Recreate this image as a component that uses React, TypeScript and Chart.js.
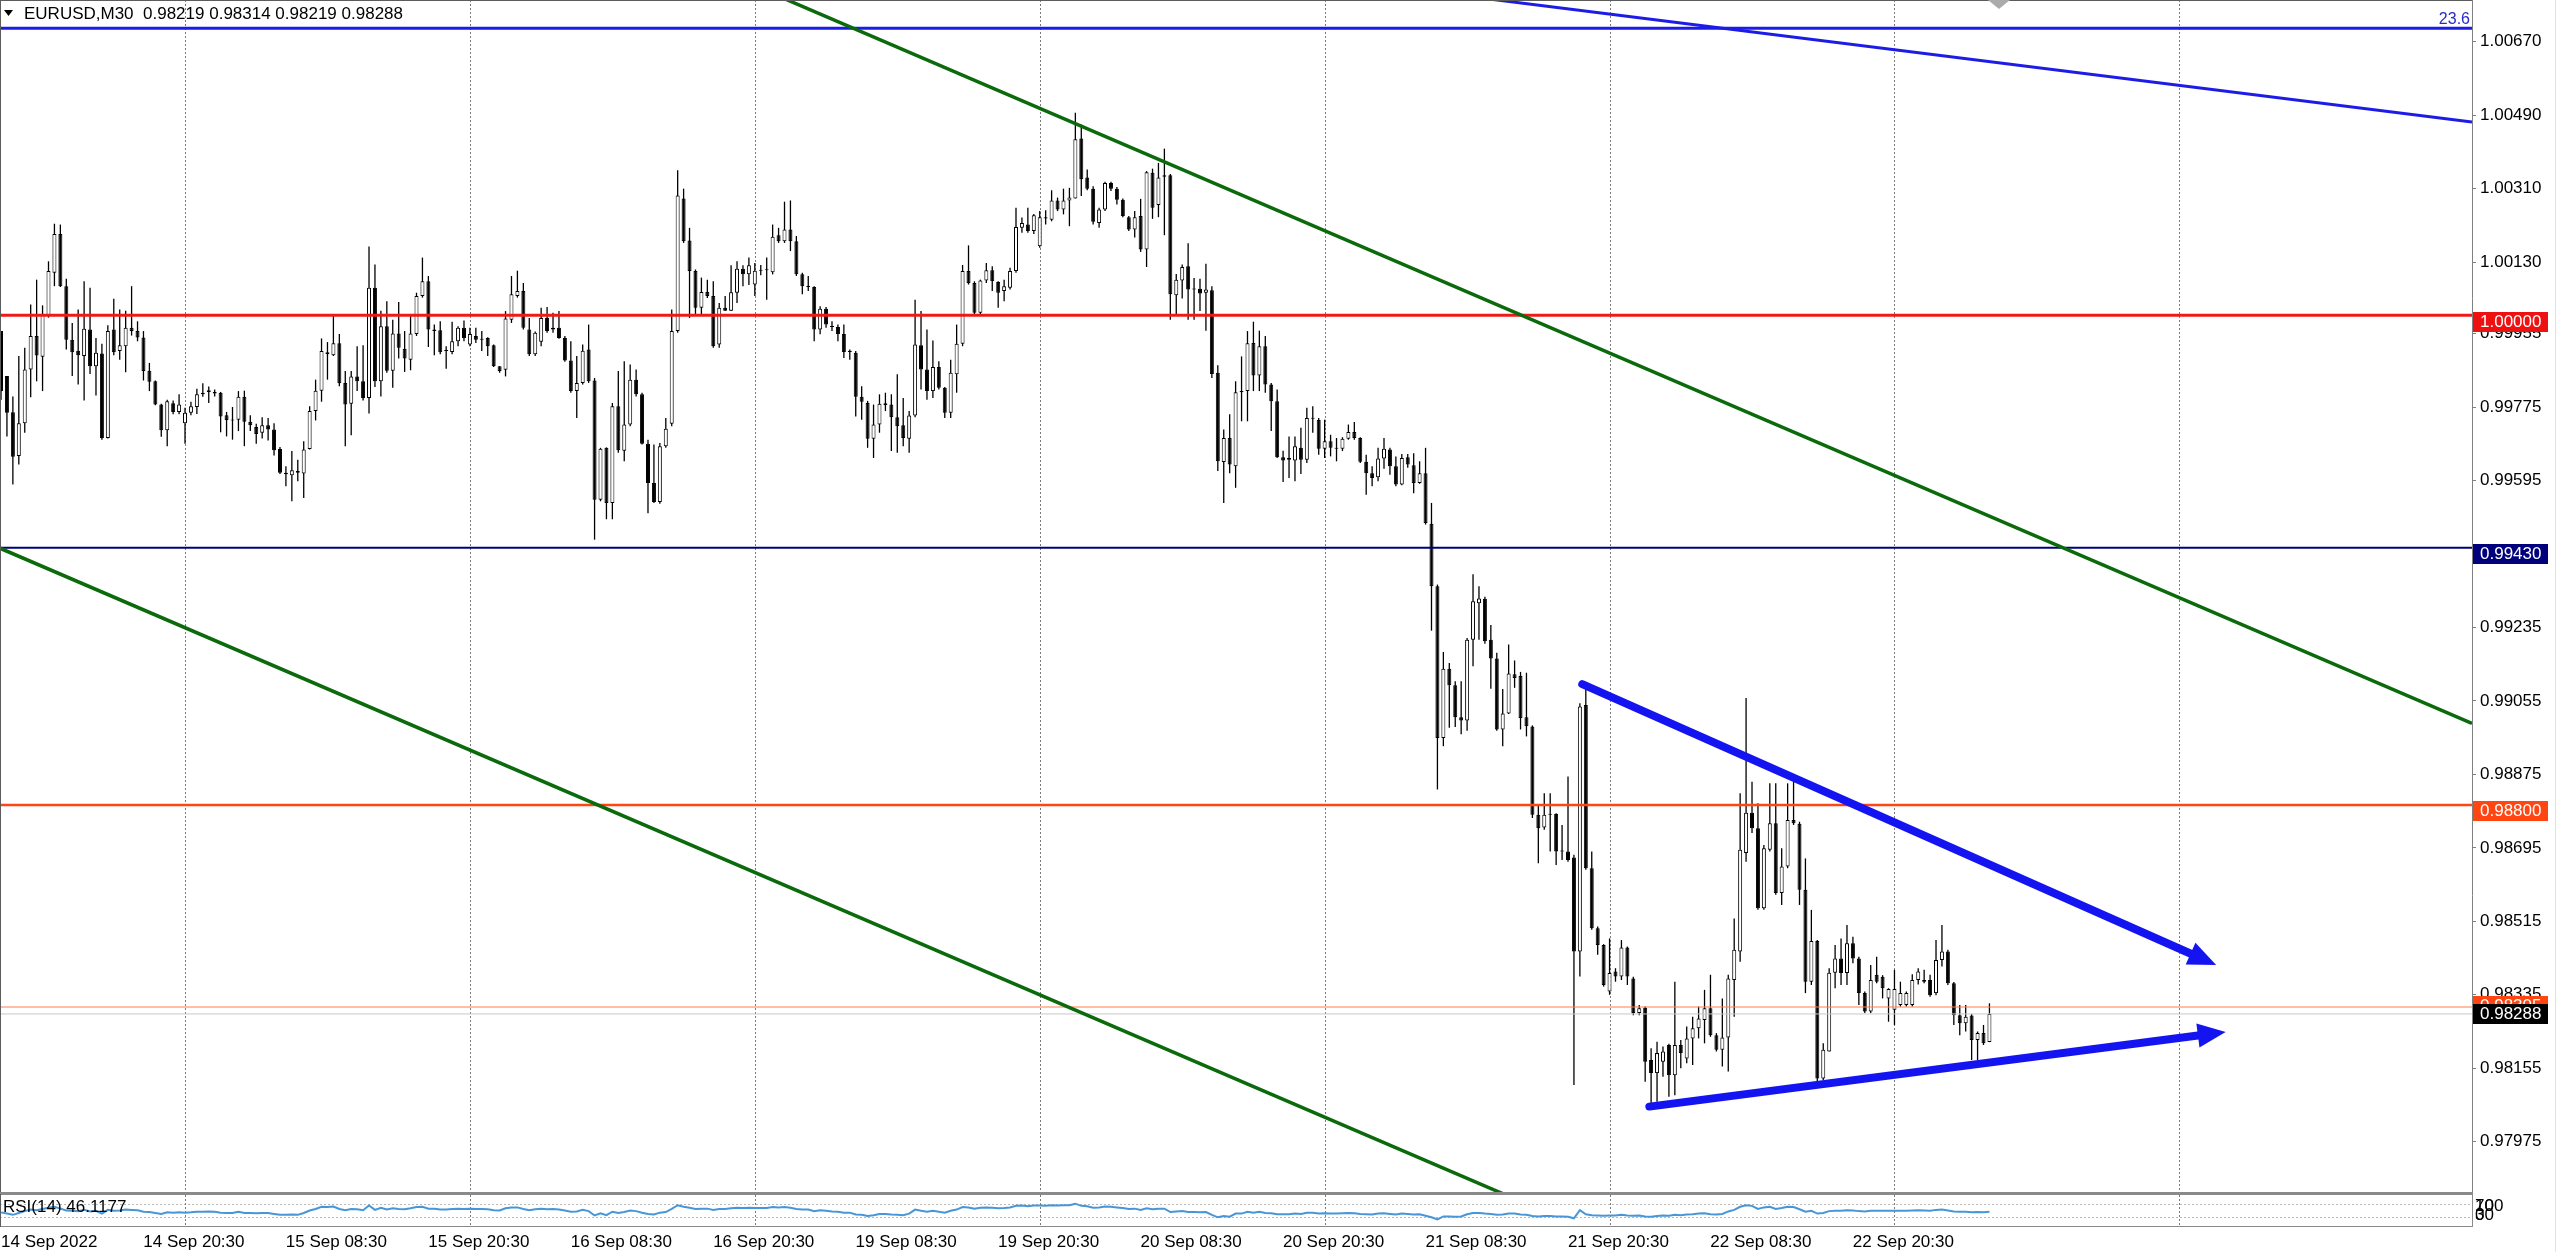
import React, { useEffect, useRef } from 'react';
import { Chart, registerables } from 'chart.js';

Chart.register(...registerables);

const FONT = "'Liberation Sans', Arial, sans-serif";

// ---------------- data (prices in 1e-5 units) ----------------
const symbolTitle = 'EURUSD,M30  0.98219 0.98314 0.98219 0.98288';

const openP = [
  99961, 99851, 99762, 99655, 99735, 99867, 99949, 99898, 99998, 100104,
  100199, 100071, 99940, 99913, 99900, 99965, 99875, 99906, 99699, 99965,
  99912, 99924, 99969, 99961, 99945, 99864, 99838, 99781, 99718, 99784,
  99763, 99735, 99761, 99775, 99806, 99812, 99812, 99810, 99755, 99744,
  99744, 99800, 99739, 99726, 99712, 99730, 99720, 99672, 99614, 99608,
  99618, 99612, 99672, 99765, 99815, 99909, 99902, 99931, 99834, 99783,
  99850, 99838, 99797, 100067, 99838, 99973, 99864, 99955, 99918, 99891,
  99954, 100047, 100083, 99965, 99963, 99912, 99910, 99936, 99969, 99928,
  99949, 99942, 99944, 99926, 99875, 99866, 99989, 100047, 100059, 99965,
  99904, 99935, 99993, 99965, 99969, 99944, 99889, 99814, 99834, 99916,
  99840, 99548, 99675, 99540, 99777, 99668, 99732, 99842, 99806, 99685,
  99589, 99542, 99679, 99734, 99961, 100286, 100183, 100108, 100018, 100057,
  100047, 99928, 100018, 100011, 100055, 100114, 100100, 100075, 100109, 100110,
  100105, 100196, 100181, 100210, 100181, 100100, 100071, 100069, 99965, 100016,
  99973, 99971, 99954, 99913, 99908, 99800, 99785, 99697, 99732, 99784,
  99781, 99750, 99730, 99697, 99754, 99926, 99867, 99814, 99873, 99822,
  99761, 99855, 99930, 100108, 100079, 100006, 100085, 100110, 100081, 100059,
  100067, 100108, 100214, 100222, 100206, 100169, 100240, 100234, 100281, 100259,
  100281, 100286, 100433, 100337, 100310, 100226, 100259, 100324, 100310, 100283,
  100240, 100210, 100243, 100161, 100349, 100270, 100339, 100343, 100049, 100085,
  100120, 100065, 100065, 100055, 100061, 99859, 99640, 99699, 99630, 99811,
  99814, 99932, 99852, 99924, 99830, 99789, 99652, 99646, 99644, 99675,
  99646, 99746, 99743, 99673, 99691, 99675, 99673, 99697, 99714, 99699,
  99641, 99613, 99603, 99649, 99671, 99630, 99585, 99652, 99632, 99589,
  99613, 99489, 99336, 98964, 99134, 99093, 99015, 99007, 99205, 99294,
  99305, 99205, 99159, 98985, 99024, 99120, 99116, 99015, 98992, 98776,
  98745, 98778, 98778, 98688, 98686, 98671, 98441, 99045, 98645, 98498,
  98457, 98343, 98392, 98380, 98451, 98375, 98290, 98303, 98175, 98143,
  98171, 98212, 98138, 98212, 98179, 98228, 98253, 98273, 98302, 98236,
  98200, 98230, 98371, 98441, 98682, 98781, 98743, 98547, 98690, 98755,
  98584, 98649, 98763, 98754, 98592, 98367, 98467, 98130, 98196, 98389,
  98424, 98388, 98461, 98424, 98339, 98294, 98384, 98379, 98326, 98298,
  98310, 98310, 98310, 98371, 98371, 98371, 98339, 98420, 98441, 98363,
  98285, 98265, 98284, 98224, 98241, 98219,
];

const highP = [
  99961, 99851, 99801, 99900, 99920, 100026, 100087, 100024, 100132, 100224,
  100222, 100089, 99981, 100014, 100083, 100067, 99944, 99930, 99975, 100040,
  100014, 100011, 100071, 99985, 99961, 99883, 99840, 99783, 99793, 99791,
  99806, 99773, 99788, 99820, 99833, 99825, 99818, 99812, 99763, 99775,
  99814, 99815, 99755, 99734, 99750, 99748, 99735, 99677, 99630, 99667,
  99646, 99691, 99777, 99842, 99943, 99934, 99998, 99954, 99863, 99863,
  99924, 99926, 100168, 100124, 100011, 100034, 99989, 100032, 99961, 100003,
  100055, 100141, 100096, 99977, 99985, 99924, 99984, 99973, 99987, 99969,
  99969, 99961, 99946, 99928, 99875, 100010, 100096, 100109, 100079, 99993,
  99960, 100018, 100020, 100006, 100010, 99949, 99936, 99900, 99928, 99977,
  99846, 99675, 99676, 99785, 99863, 99887, 99879, 99867, 99810, 99695,
  99683, 99687, 99748, 100014, 100355, 100310, 100214, 100112, 100092, 100087,
  100083, 100030, 100047, 100122, 100132, 100122, 100141, 100128, 100123, 100141,
  100222, 100214, 100278, 100281, 100194, 100104, 100096, 100071, 100022, 100020,
  99985, 99977, 99977, 99916, 99912, 99826, 99790, 99781, 99806, 99810,
  99806, 99855, 99797, 99765, 100038, 100010, 99965, 99938, 99887, 99824,
  99891, 99977, 100123, 100171, 100083, 100087, 100128, 100120, 100083, 100087,
  100116, 100263, 100239, 100263, 100248, 100255, 100257, 100306, 100288, 100310,
  100312, 100496, 100467, 100357, 100316, 100263, 100327, 100327, 100314, 100286,
  100243, 100255, 100285, 100353, 100359, 100373, 100408, 100346, 100101, 100124,
  100176, 100091, 100089, 100126, 100071, 99877, 99720, 99757, 99838, 99899,
  99961, 99984, 99962, 99949, 99834, 99818, 99668, 99703, 99703, 99724,
  99773, 99777, 99748, 99744, 99707, 99699, 99701, 99732, 99738, 99701,
  99658, 99630, 99675, 99699, 99675, 99654, 99660, 99660, 99662, 99642,
  99675, 99540, 99340, 99175, 99148, 99103, 99103, 99209, 99365, 99336,
  99310, 99241, 99173, 99084, 99193, 99154, 99126, 99124, 98995, 98800,
  98829, 98829, 98780, 98751, 98870, 98678, 99049, 99086, 98686, 98502,
  98459, 98473, 98400, 98469, 98453, 98379, 98310, 98306, 98204, 98220,
  98208, 98215, 98367, 98224, 98257, 98281, 98306, 98347, 98384, 98241,
  98326, 98384, 98522, 98829, 99062, 98857, 98804, 98702, 98853, 98853,
  98694, 98853, 98857, 98759, 98669, 98543, 98469, 98216, 98400, 98457,
  98473, 98506, 98477, 98428, 98343, 98408, 98428, 98383, 98351, 98396,
  98367, 98343, 98385, 98400, 98396, 98384, 98469, 98506, 98445, 98366,
  98310, 98310, 98288, 98245, 98261, 98314,
];

const lowP = [
  99793, 99703, 99585, 99634, 99712, 99799, 99838, 99814, 99994, 100071,
  100069, 99916, 99851, 99830, 99791, 99856, 99803, 99695, 99698, 99902,
  99891, 99860, 99950, 99936, 99840, 99814, 99779, 99702, 99679, 99757,
  99757, 99685, 99755, 99758, 99800, 99785, 99801, 99713, 99703, 99695,
  99716, 99679, 99716, 99685, 99698, 99693, 99656, 99611, 99581, 99544,
  99593, 99552, 99671, 99742, 99788, 99842, 99900, 99826, 99679, 99706,
  99814, 99791, 99759, 99824, 99801, 99859, 99822, 99894, 99861, 99865,
  99949, 100043, 99922, 99902, 99904, 99869, 99904, 99924, 99936, 99924,
  99932, 99912, 99900, 99873, 99859, 99850, 99981, 100043, 99965, 99900,
  99900, 99924, 99957, 99957, 99942, 99886, 99810, 99748, 99830, 99834,
  99450, 99544, 99500, 99500, 99663, 99642, 99728, 99801, 99683, 99515,
  99540, 99538, 99675, 99728, 99957, 100177, 99993, 100003, 100002, 100042,
  99920, 99920, 100010, 100010, 100030, 100071, 100074, 100047, 100098, 100038,
  100100, 100177, 100177, 100157, 100096, 100051, 100059, 99936, 99953, 99969,
  99961, 99936, 99895, 99891, 99752, 99744, 99675, 99650, 99712, 99765,
  99667, 99663, 99679, 99663, 99750, 99818, 99793, 99797, 99818, 99748,
  99748, 99810, 99924, 100075, 100002, 100002, 100079, 100059, 100018, 100034,
  100063, 100104, 100202, 100202, 100199, 100165, 100222, 100230, 100255, 100247,
  100218, 100286, 100292, 100306, 100222, 100214, 100255, 100304, 100271, 100240,
  100206, 100190, 100155, 100118, 100236, 100240, 100196, 99989, 99998, 100041,
  99989, 99989, 100010, 99962, 99846, 99618, 99540, 99613, 99577, 99740,
  99740, 99814, 99814, 99810, 99716, 99650, 99591, 99601, 99593, 99611,
  99638, 99712, 99658, 99650, 99654, 99642, 99667, 99695, 99695, 99638,
  99560, 99581, 99593, 99624, 99609, 99581, 99583, 99626, 99564, 99587,
  99487, 99227, 98838, 98944, 98989, 98991, 98973, 98982, 99140, 99205,
  99195, 99085, 98982, 98944, 99023, 99087, 98985, 98968, 98768, 98657,
  98739, 98686, 98653, 98665, 98661, 98114, 98380, 98641, 98494, 98433,
  98355, 98335, 98367, 98371, 98359, 98285, 98285, 98122, 98069, 98073,
  98134, 98085, 98089, 98155, 98167, 98163, 98228, 98216, 98232, 98196,
  98159, 98147, 98281, 98416, 98661, 98731, 98543, 98543, 98686, 98580,
  98555, 98645, 98751, 98555, 98339, 98359, 98122, 98126, 98196, 98351,
  98359, 98359, 98412, 98310, 98290, 98290, 98363, 98326, 98269, 98261,
  98306, 98306, 98306, 98360, 98363, 98330, 98334, 98404, 98359, 98261,
  98236, 98245, 98175, 98175, 98212, 98219,
];

const closeP = [
  99814, 99761, 99653, 99735, 99867, 99949, 99901, 100002, 100108, 100199,
  100071, 99940, 99909, 99902, 99967, 99875, 99908, 99699, 99961, 99909,
  99926, 99969, 99961, 99945, 99863, 99837, 99781, 99718, 99789, 99763,
  99781, 99761, 99777, 99806, 99810, 99816, 99808, 99752, 99743, 99742,
  99800, 99739, 99730, 99709, 99730, 99720, 99669, 99614, 99610, 99620,
  99614, 99671, 99765, 99815, 99912, 99904, 99931, 99833, 99781, 99850,
  99838, 99797, 100067, 99838, 99973, 99864, 99955, 99920, 99894, 99955,
  100047, 100083, 99965, 99961, 99909, 99912, 99936, 99969, 99944, 99954,
  99940, 99940, 99924, 99875, 99863, 99992, 100051, 100059, 99969, 99904,
  99957, 99993, 99961, 99969, 99944, 99889, 99814, 99834, 99913, 99838,
  99548, 99673, 99540, 99777, 99669, 99732, 99842, 99806, 99685, 99589,
  99542, 99679, 99722, 99961, 100293, 100181, 100108, 100018, 100057, 100047,
  99924, 100018, 100011, 100056, 100114, 100100, 100122, 100109, 100110, 100111,
  100192, 100181, 100210, 100181, 100100, 100071, 100069, 99965, 100016, 99977,
  99971, 99954, 99910, 99910, 99800, 99788, 99697, 99732, 99783, 99779,
  99750, 99728, 99699, 99754, 99928, 99867, 99814, 99873, 99822, 99761,
  99859, 99930, 100108, 100079, 100006, 100085, 100110, 100083, 100055, 100071,
  100108, 100216, 100226, 100206, 100245, 100240, 100237, 100281, 100259, 100281,
  100288, 100431, 100333, 100310, 100229, 100259, 100324, 100310, 100283, 100243,
  100210, 100240, 100161, 100350, 100263, 100337, 100343, 100051, 100087, 100118,
  100063, 100063, 100053, 100063, 99856, 99642, 99699, 99634, 99811, 99814,
  99931, 99852, 99924, 99830, 99789, 99652, 99644, 99650, 99679, 99646,
  99748, 99748, 99673, 99691, 99675, 99673, 99697, 99714, 99699, 99641,
  99613, 99601, 99649, 99673, 99630, 99585, 99650, 99634, 99589, 99613,
  99491, 99336, 98964, 99134, 99093, 99015, 99007, 99205, 99299, 99306,
  99201, 99159, 98985, 99024, 99122, 99111, 99013, 98993, 98776, 98743,
  98776, 98776, 98686, 98686, 98665, 98441, 99041, 98645, 98498, 98457,
  98359, 98388, 98380, 98451, 98380, 98290, 98302, 98171, 98143, 98192,
  98196, 98138, 98212, 98192, 98228, 98253, 98277, 98302, 98236, 98200,
  98230, 98375, 98445, 98690, 98781, 98743, 98547, 98694, 98755, 98584,
  98649, 98763, 98755, 98592, 98367, 98467, 98130, 98200, 98389, 98424,
  98388, 98461, 98424, 98339, 98294, 98371, 98367, 98351, 98349, 98349,
  98339, 98339, 98371, 98392, 98367, 98334, 98420, 98441, 98363, 98285,
  98265, 98281, 98224, 98241, 98216, 98288,
];

const rsiValues = [
  44, 40, 36, 42, 48, 53, 51, 55, 59, 62,
  56, 50, 49, 48, 52, 47, 49, 40, 52, 49,
  50, 53, 52, 51, 46, 45, 42, 39, 44, 43,
  44, 43, 44, 46, 46, 47, 46, 43, 42, 42,
  46, 42, 42, 41, 42, 42, 39, 36, 36, 37,
  36, 42, 50, 55, 62, 61, 63, 55, 51, 55,
  54, 51, 66, 52, 59, 53, 57, 55, 54, 57,
  61, 62, 56, 56, 53, 53, 55, 56, 55, 56,
  55, 55, 54, 51, 50, 57, 60, 60, 55, 51,
  54, 56, 54, 55, 53, 50, 46, 47, 52, 48,
  34, 41, 35, 46, 42, 45, 50, 48, 43, 39,
  37, 43, 45, 55, 67, 62, 59, 55, 56, 56,
  52, 55, 55, 57, 59, 58, 59, 58, 58, 58,
  61, 60, 61, 59, 55, 53, 53, 48, 51, 49,
  47, 46, 43, 43, 37, 36, 32, 35, 39, 39,
  37, 36, 35, 40, 53, 49, 46, 49, 46, 43,
  49, 53, 61, 60, 56, 59, 60, 59, 57, 58,
  60, 65, 66, 64, 66, 66, 65, 67, 66, 67,
  67, 72, 65, 64, 59, 60, 63, 62, 60, 58,
  55, 56, 52, 57, 54, 56, 56, 45, 47, 48,
  45, 45, 44, 45, 36, 28, 32, 30, 40, 40,
  46, 43, 46, 42, 41, 38, 38, 38, 40, 39,
  43, 43, 40, 41, 40, 40, 41, 42, 41, 39,
  38, 37, 40, 41, 39, 37, 40, 39, 37, 38,
  33, 28, 21, 31, 31, 30, 31, 38, 42, 42,
  40, 39, 36, 37, 40, 40, 37, 36, 32, 31,
  32, 32, 31, 31, 30, 25, 51, 38, 35, 34,
  33, 34, 34, 36, 34, 33, 34, 31, 30, 32,
  34, 33, 36, 35, 37, 38, 40, 41, 38, 37,
  39, 47, 52, 62, 67, 65, 55, 60, 62, 55,
  58, 62, 61, 54, 46, 49, 40, 42, 48, 49,
  49, 51, 50, 48, 47, 49, 49, 49, 49, 49,
  49, 49, 50, 51, 50, 49, 52, 53, 50, 47,
  46, 46, 44, 45, 44, 46.1177,
];

const timeLabels = [
  '14 Sep 2022', '14 Sep 20:30', '15 Sep 08:30', '15 Sep 20:30', '16 Sep 08:30',
  '16 Sep 20:30', '19 Sep 08:30', '19 Sep 20:30', '20 Sep 08:30', '20 Sep 20:30',
  '21 Sep 08:30', '21 Sep 20:30', '22 Sep 08:30', '22 Sep 20:30',
];
const timeLabelBars = [0, 31, 55, 79, 103, 127, 151, 175, 199, 223, 247, 271, 295, 319];
const gridBars = [31, 79, 127, 175, 223, 271, 319, 367];

const priceTicks = [
  1.0067, 1.0049, 1.0031, 1.0013, 0.99955, 0.99775, 0.99595, 0.99415,
  0.99235, 0.99055, 0.98875, 0.98695, 0.98515, 0.98335, 0.98155, 0.97975,
];
const rsiLevels = [70, 30];
const rsiScaleLabels = ['100', '70', '30', '0'];

// horizontal levels: fibo 23.6, 1.00000, 0.99430, 0.98800, ask, bid
const levelPrices = [1.00703, 1.0, 0.9943, 0.988, 0.98305, 0.98288];
const fiboText = '23.6';

// trend lines as [bar, price] end points
const channelUpper = [[125, 1.00819], [416.3, 0.99]];
const channelLower = [[-0.17, 0.99429], [260, 0.97804]];
const blueTrend = [[245, 1.00785], [416.3, 1.00473]];
const arrowUpper = [[266.4, 0.99096], [373.2, 0.98408]];
const arrowLower = [[277.7, 0.98061], [374.8, 0.98244]];

// ---------------- styles / layout ----------------
const XMIN = -0.17;
const XMAX = 416.3;
const YMIN = 0.978493;
const YMAX = 1.0077217;
const AXIS_W = 88;

const levelStyles = [
  { color: '#1c1ce6', width: 3 },
  { color: '#ee1a1a', width: 3 },
  { color: '#00007c', width: 2 },
  { color: '#ff4512', width: 2.5 },
  { color: '#ff7a50', width: 1 },
  { color: '#c8c8c8', width: 1 },
];
const levelBoxes = [
  { i: 1, bg: '#ee1111', dy: 7 },
  { i: 2, bg: '#00007c', dy: 6 },
  { i: 3, bg: '#ff4512', dy: 6 },
  { i: 4, bg: '#ff4512', dy: -1 },
  { i: 5, bg: '#000000', dy: 0 },
];

const N = closeP.length;
const idx = Array.from({ length: N }, (_, i) => i);
const pr = (v: number) => v / 1e5;
const seg = (pts: number[][]) => pts.map(([x, y]) => ({ x, y }));

function drawArrow(ctx: CanvasRenderingContext2D, x0: number, y0: number, x1: number, y1: number, color: string) {
  const ang = Math.atan2(y1 - y0, x1 - x0);
  const c = Math.cos(ang), s = Math.sin(ang);
  const headLen = 28, headHalf = 12;
  const bx = x1 - headLen * c, by = y1 - headLen * s;
  ctx.strokeStyle = color;
  ctx.lineWidth = 8;
  ctx.lineCap = 'round';
  ctx.beginPath();
  ctx.moveTo(x0, y0);
  ctx.lineTo(bx + 4 * c, by + 4 * s);
  ctx.stroke();
  ctx.fillStyle = color;
  ctx.beginPath();
  ctx.moveTo(x1, y1);
  ctx.lineTo(bx - headHalf * s, by + headHalf * c);
  ctx.lineTo(bx + headHalf * s, by - headHalf * c);
  ctx.closePath();
  ctx.fill();
}

const mainPlugin = {
  id: 'mt4main',
  beforeDatasetsDraw(chart: any) {
    const { ctx, chartArea: a, scales } = chart;
    const xs = scales.x;
    ctx.save();
    ctx.strokeStyle = '#7a7a7a';
    ctx.lineWidth = 1;
    ctx.setLineDash([2, 2]);
    for (const b of gridBars) {
      const x = Math.round(xs.getPixelForValue(b)) + 0.5;
      ctx.beginPath();
      ctx.moveTo(x, a.top);
      ctx.lineTo(x, a.bottom);
      ctx.stroke();
    }
    ctx.restore();
  },
  afterDatasetsDraw(chart: any) {
    const { ctx, chartArea: a, scales } = chart;
    const xs = scales.x, ys = scales.y;
    ctx.save();
    ctx.beginPath();
    ctx.rect(a.left, a.top, a.right - a.left, a.bottom - a.top);
    ctx.clip();
    for (const ar of [arrowUpper, arrowLower]) {
      drawArrow(
        ctx,
        xs.getPixelForValue(ar[0][0]), ys.getPixelForValue(ar[0][1]),
        xs.getPixelForValue(ar[1][0]), ys.getPixelForValue(ar[1][1]),
        '#1414f0'
      );
    }
    ctx.restore();
  },
  afterDraw(chart: any) {
    const { ctx, chartArea: a, scales } = chart;
    const ys = scales.y;
    ctx.save();
    // frame
    ctx.fillStyle = '#5c5c5c';
    ctx.fillRect(0, 0, a.right, 1);
    ctx.fillRect(0, 0, 1, a.bottom);
    ctx.fillStyle = '#8a8a8a';
    ctx.fillRect(0, a.bottom - 1, a.right + 1, 2);
    ctx.fillStyle = '#e2e2e2';
    ctx.fillRect(2555, 0, 1, chart.height);
    // price labels of lines
    ctx.font = `17px ${FONT}`;
    ctx.textBaseline = 'middle';
    ctx.textAlign = 'left';
    for (const b of levelBoxes) {
      const p = levelPrices[b.i];
      const cy = ys.getPixelForValue(p) + b.dy;
      ctx.fillStyle = b.bg;
      ctx.fillRect(a.right + 1, Math.round(cy - 10), 75, 20);
      ctx.fillStyle = '#ffffff';
      ctx.fillText(p.toFixed(5), a.right + 8, Math.round(cy) + 0.5);
    }
    // header
    ctx.fillStyle = '#000';
    ctx.beginPath();
    ctx.moveTo(4, 10);
    ctx.lineTo(13, 10);
    ctx.lineTo(8.5, 16);
    ctx.closePath();
    ctx.fill();
    ctx.fillText(symbolTitle, 24, 14);
    // fibo text
    ctx.font = `16px ${FONT}`;
    ctx.textAlign = 'right';
    ctx.textBaseline = 'alphabetic';
    ctx.fillStyle = '#2a2ac8';
    ctx.fillText(fiboText, a.right - 2, 24);
    // grey marker at the top
    ctx.fillStyle = '#ababab';
    ctx.beginPath();
    ctx.moveTo(1988, 0);
    ctx.lineTo(2010, 0);
    ctx.lineTo(1999, 9);
    ctx.closePath();
    ctx.fill();
    ctx.restore();
  },
};

const rsiPlugin = {
  id: 'mt4rsi',
  beforeDatasetsDraw(chart: any) {
    const { ctx, chartArea: a, scales } = chart;
    const xs = scales.x, ys = scales.y;
    ctx.save();
    ctx.lineWidth = 1;
    ctx.setLineDash([2, 2]);
    ctx.strokeStyle = '#b8b8b8';
    for (const lv of rsiLevels) {
      const y = Math.round(ys.getPixelForValue(lv)) + 0.5;
      ctx.beginPath();
      ctx.moveTo(a.left, y);
      ctx.lineTo(a.right, y);
      ctx.stroke();
    }
    ctx.strokeStyle = '#7a7a7a';
    for (const b of gridBars) {
      const x = Math.round(xs.getPixelForValue(b)) + 0.5;
      ctx.beginPath();
      ctx.moveTo(x, a.top);
      ctx.lineTo(x, a.bottom);
      ctx.stroke();
    }
    ctx.restore();
  },
  afterDraw(chart: any) {
    const { ctx, chartArea: a } = chart;
    ctx.save();
    ctx.fillStyle = '#8a8a8a';
    ctx.fillRect(0, 0, a.right + 1, 1);
    ctx.fillRect(0, a.bottom, a.right + 1, 1);
    ctx.fillRect(a.right, 0, 1, a.bottom + 1);
    ctx.fillStyle = '#5c5c5c';
    ctx.fillRect(0, 0, 1, a.bottom + 1);
    ctx.fillStyle = '#e2e2e2';
    ctx.fillRect(2555, 0, 1, chart.height);
    ctx.font = `17px ${FONT}`;
    ctx.textBaseline = 'middle';
    ctx.textAlign = 'left';
    ctx.fillStyle = '#000';
    ctx.fillText('RSI(14) ' + rsiValues[N - 1].toFixed(4), 3, 13);
    ctx.fillText(rsiScaleLabels[0], a.right + 3, 12.5);
    ctx.fillText(rsiScaleLabels[1], a.right + 3, 12.5);
    ctx.fillText(rsiScaleLabels[2], a.right + 3, 21.5);
    ctx.fillText(rsiScaleLabels[3], a.right + 3, 21.5);
    ctx.restore();
  },
};

function lineDs(data: any[], color: string, width: number, order: number) {
  return {
    type: 'line',
    data,
    borderColor: color,
    borderWidth: width,
    pointRadius: 0,
    tension: 0,
    fill: false,
    order,
  };
}

export default function App() {
  const mainRef = useRef<HTMLCanvasElement>(null);
  const rsiRef = useRef<HTMLCanvasElement>(null);

  useEffect(() => {
    Chart.defaults.font.family = FONT;

    const datasets: any[] = [
      {
        type: 'bar',
        data: idx.map((i) => ({ x: i, y: [pr(lowP[i]), pr(highP[i])] })),
        backgroundColor: '#000000',
        borderWidth: 0,
        barThickness: 1.3,
        grouped: false,
        inflateAmount: 0,
        order: 11,
      },
      {
        type: 'bar',
        data: idx.map((i) => ({ x: i, y: [pr(openP[i]), pr(closeP[i])] })),
        backgroundColor: idx.map((i) => (closeP[i] >= openP[i] ? '#ffffff' : '#000000')),
        borderColor: '#000000',
        borderWidth: 1,
        borderSkipped: false,
        barThickness: 4,
        minBarLength: 1,
        grouped: false,
        inflateAmount: 0,
        order: 10,
      },
      ...levelPrices.map((p, k) =>
        lineDs([{ x: XMIN, y: p }, { x: XMAX, y: p }], levelStyles[k].color, levelStyles[k].width, 3)
      ),
      lineDs(seg(channelUpper), '#0b6a0b', 3.5, 2),
      lineDs(seg(channelLower), '#0b6a0b', 3.5, 2),
      lineDs(seg(blueTrend), '#1c1ce6', 3, 2),
    ];

    const main = new Chart(mainRef.current as HTMLCanvasElement, {
      type: 'bar',
      data: { datasets },
      options: {
        animation: false,
        responsive: false,
        maintainAspectRatio: false,
        devicePixelRatio: 1,
        events: [],
        layout: { padding: { top: 0, left: 0, right: 0, bottom: 1 } },
        plugins: { legend: { display: false }, tooltip: { enabled: false } },
        scales: {
          x: { type: 'linear', min: XMIN, max: XMAX, display: false, offset: false },
          y: {
            type: 'linear',
            position: 'right',
            min: YMIN,
            max: YMAX,
            afterFit: (s: any) => {
              s.width = AXIS_W;
              s.paddingTop = 0;
              s.paddingBottom = 0;
            },
            afterBuildTicks: (s: any) => {
              s.ticks = priceTicks.map((v) => ({ value: v }));
            },
            ticks: {
              autoSkip: false,
              padding: 4,
              color: '#000',
              font: { family: FONT, size: 17 },
              callback: (v: any) => Number(v).toFixed(5),
            },
            grid: { drawOnChartArea: false, drawTicks: true, tickLength: 4, color: '#808080' },
            border: { display: true, color: '#808080', width: 1 },
          },
        },
      } as any,
      plugins: [mainPlugin],
    } as any);

    const rsi = new Chart(rsiRef.current as HTMLCanvasElement, {
      type: 'line',
      data: {
        datasets: [
          {
            data: idx.map((i) => ({ x: i, y: rsiValues[i] })),
            borderColor: '#4796d8',
            borderWidth: 2,
            pointRadius: 0,
            tension: 0,
            fill: false,
          },
        ],
      },
      options: {
        animation: false,
        responsive: false,
        maintainAspectRatio: false,
        devicePixelRatio: 1,
        events: [],
        layout: { padding: { top: 1, left: 0, right: 0, bottom: 0 } },
        plugins: { legend: { display: false }, tooltip: { enabled: false } },
        scales: {
          x: {
            type: 'linear',
            position: 'bottom',
            min: XMIN,
            max: XMAX,
            offset: false,
            afterBuildTicks: (s: any) => {
              s.ticks = [
                ...timeLabelBars.map((b) => ({ value: b === 0 ? 0 : b + 1.5 })),
                { value: XMAX },
              ];
            },
            afterFit: (s: any) => {
              s.height = 26;
              s.paddingLeft = 0;
              s.paddingRight = 0;
            },
            ticks: {
              autoSkip: false,
              maxRotation: 0,
              minRotation: 0,
              align: 'inner',
              padding: 6,
              color: '#000',
              font: { family: FONT, size: 17 },
              callback: (_v: any, i: number) => (i < timeLabels.length ? timeLabels[i] : ''),
            },
            grid: { display: false, drawTicks: false },
            border: { display: false },
          },
          y: {
            type: 'linear',
            position: 'right',
            min: 0,
            max: 100,
            afterFit: (s: any) => {
              s.width = AXIS_W;
              s.paddingTop = 0;
              s.paddingBottom = 0;
            },
            ticks: { display: false },
            grid: { drawOnChartArea: false, drawTicks: false },
            border: { display: false },
          },
        },
      } as any,
      plugins: [rsiPlugin],
    } as any);

    return () => {
      main.destroy();
      rsi.destroy();
    };
  }, []);

  return (
    <div
      style={{
        position: 'fixed',
        left: 0,
        top: 0,
        width: 2560,
        height: 1252,
        background: '#ffffff',
        overflow: 'hidden',
      }}
    >
      <canvas
        ref={mainRef}
        width={2560}
        height={1194}
        style={{ position: 'absolute', left: 0, top: 0, width: 2560, height: 1194, display: 'block' }}
      />
      <canvas
        ref={rsiRef}
        width={2560}
        height={58}
        style={{ position: 'absolute', left: 0, top: 1194, width: 2560, height: 58, display: 'block' }}
      />
    </div>
  );
}
